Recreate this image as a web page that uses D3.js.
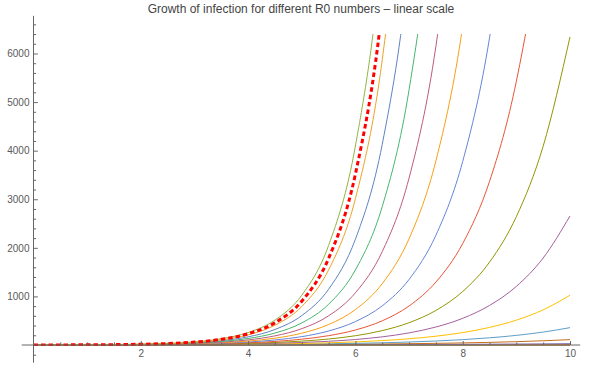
<!DOCTYPE html>
<html lang="en">
<head>
<meta charset="UTF-8">
<title>Growth of infection</title>
<style>
  body { margin: 0; background: #fff; }
  text { font-family: "Liberation Sans", Arial, sans-serif; }
</style>
</head>
<body>
<script src="https://d3js.org/d3.v7.min.js"></script>
<div id="chart"></div>
<script>

// sample positions (days / generations) shared by every curve
var xs = [0, 0.5, 1, 1.5, 2, 2.5, 3, 3.5, 4, 4.5, 5, 5.5, 6, 6.5, 7, 7.5, 8, 8.5, 9, 9.5, 10];

// infections, one array per R0
var r06 = [1, 0.77, 0.6, 0.46, 0.36, 0.28, 0.22, 0.17, 0.13, 0.1, 0.08, 0.06, 0.05, 0.04, 0.03, 0.02, 0.02, 0.01, 0.01, 0.01, 0.01];
var r08 = [1, 0.89, 0.8, 0.72, 0.64, 0.57, 0.51, 0.46, 0.41, 0.37, 0.33, 0.29, 0.26, 0.23, 0.21, 0.19, 0.17, 0.15, 0.13, 0.12, 0.11];
var r10 = [1, 1, 1, 1, 1, 1, 1, 1, 1, 1, 1, 1, 1, 1, 1, 1, 1, 1, 1, 1, 1];
var r12 = [1, 1.1, 1.2, 1.31, 1.44, 1.58, 1.73, 1.89, 2.07, 2.27, 2.49, 2.73, 2.99, 3.27, 3.58, 3.93, 4.3, 4.71, 5.16, 5.65, 6.19];
var r14 = [1, 1.18, 1.4, 1.66, 1.96, 2.32, 2.74, 3.25, 3.84, 4.55, 5.38, 6.36, 7.53, 8.91, 10.5, 12.5, 14.8, 17.5, 20.7, 24.4, 28.9];
var r16 = [1, 1.26, 1.6, 2.02, 2.56, 3.24, 4.1, 5.18, 6.55, 8.29, 10.5, 13.3, 16.8, 21.2, 26.8, 34, 43, 54.3, 68.7, 86.9, 110];
var r18 = [1, 1.34, 1.8, 2.41, 3.24, 4.35, 5.83, 7.82, 10.5, 14.1, 18.9, 25.3, 34, 45.6, 61.2, 82.1, 110, 148, 198, 266, 357];
var r20 = [1, 1.41, 2, 2.83, 4, 5.66, 8, 11.3, 16, 22.6, 32, 45.3, 64, 90.5, 128, 181, 256, 362, 512, 724, 1024];
var r22 = [1, 1.48, 2.2, 3.26, 4.84, 7.18, 10.6, 15.8, 23.4, 34.7, 51.5, 76.4, 113, 168, 249, 370, 549, 814, 1207, 1791, 2656];
var r24 = [1, 1.55, 2.4, 3.72, 5.76, 8.92, 13.8, 21.4, 33.2, 51.4, 79.6, 123, 191, 296, 459, 711, 1101, 1705, 2642, 4093, 6340];
var r26 = [1, 1.61, 2.6, 4.19, 6.76, 10.9, 17.6, 28.3, 45.7, 73.7, 119, 192, 309, 498, 803, 1295, 2088, 3367, 5430, 8755, 14117];
var r28 = [1, 1.67, 2.8, 4.69, 7.84, 13.1, 22, 36.7, 61.5, 103, 172, 288, 482, 806, 1349, 2258, 3778, 6322, 10579, 17701];
var r30 = [1, 1.73, 3, 5.2, 9, 15.6, 27, 46.8, 81, 140, 243, 421, 729, 1263, 2187, 3788, 6561, 11365, 19683];
var r32 = [1, 1.79, 3.2, 5.72, 10.2, 18.3, 32.8, 58.6, 105, 188, 336, 600, 1074, 1921, 3436, 6147, 10995, 19669];
var r34 = [1, 1.84, 3.4, 6.27, 11.6, 21.3, 39.3, 72.5, 134, 246, 454, 838, 1545, 2849, 5252, 9685, 17858];
var r36 = [1, 1.9, 3.6, 6.83, 13, 24.6, 46.7, 88.5, 168, 319, 605, 1147, 2177, 4130, 7836, 14869];
var r38 = [1, 1.95, 3.8, 7.41, 14.4, 28.1, 54.9, 107, 208, 406, 792, 1545, 3011, 5870, 11442, 22304];
var r40 = [1, 2, 4, 8, 16, 32, 64, 128, 256, 512, 1024, 2048, 4096, 8192, 16384];
// highlighted curve (red dashed)
var r39 = [1, 1.97, 3.9, 7.7, 15.2, 30, 59.3, 117, 231, 457, 902, 1782, 3519, 6949, 13723, 27100];

var curves = [r06, r08, r10, r12, r14, r16, r18, r20, r22, r24, r26, r28, r30, r32, r34, r36, r38, r40];
var colors = ["#5e81b5", "#e19c24", "#8fb032", "#eb6235", "#8778b3", "#c56e1a", "#5d9ec7", "#ffbf00",
              "#a5609d", "#929600", "#e95536", "#6685d9", "#f89f13", "#bc5b80", "#47b66d", "#5f83c1",
              "#eba229", "#93b440"];

var xMajor = [2, 4, 6, 8, 10];
var yMajor = [1000, 2000, 3000, 4000, 5000, 6000];

var width = 595, height = 373;

var svg = d3.select("#chart")
  .append("svg")
    .attr("width", width)
    .attr("height", height);

var x = d3.scaleLinear().domain([0, 10]).range([33.5, 570]);
var y = d3.scaleLinear().domain([0, 6000]).range([345, 53.5]);

// clip the curves at the plot range
svg.append("clipPath")
    .attr("id", "plotclip")
  .append("rect")
    .attr("x", x(0))
    .attr("y", y(6400))
    .attr("width", x(10) - x(0) + 2)
    .attr("height", y(0) - y(6400) + 1);

var line = d3.line()
  .x(function(d, i) { return x(xs[i]); })
  .y(function(d) { return y(d); })
  .curve(d3.curveMonotoneX);

var plot = svg.append("g").attr("clip-path", "url(#plotclip)");

plot.selectAll("path.curve")
  .data(curves)
  .enter()
  .append("path")
    .attr("class", "curve")
    .attr("d", line)
    .attr("fill", "none")
    .attr("stroke", function(d, i) { return colors[i]; })
    .attr("stroke-width", 1);

plot.append("path")
    .attr("d", line(r39))
    .attr("fill", "none")
    .attr("stroke", "#ff0000")
    .attr("stroke-width", 3)
    .attr("stroke-dasharray", "4.5,3");

// axes, Mathematica style: ticks point into the plot
var axisColor = "#666";

var xMinor = d3.range(0.5, 10.01, 0.5).filter(function(v) { return v % 2 !== 0; });
var yMinor = d3.range(-200, 6601, 200).filter(function(v) { return v % 1000 !== 0; });

svg.append("line")
    .attr("x1", x(-0.22)).attr("x2", x(10.19))
    .attr("y1", y(0)).attr("y2", y(0))
    .attr("stroke", axisColor);
svg.append("line")
    .attr("x1", x(0)).attr("x2", x(0))
    .attr("y1", y(-365)).attr("y2", y(6775))
    .attr("stroke", axisColor);

svg.append("g")
    .attr("transform", "translate(0," + y(0) + ")")
    .call(d3.axisBottom(x).tickValues(xMajor).tickSize(-4).tickPadding(5).tickFormat(d3.format("d")));
svg.append("g")
    .attr("transform", "translate(0," + y(0) + ")")
    .call(d3.axisBottom(x).tickValues(xMinor).tickSize(-2.6).tickFormat(""));

svg.append("g")
    .attr("transform", "translate(" + x(0) + ",0)")
    .call(d3.axisLeft(y).tickValues(yMajor).tickSize(-4.3).tickPadding(4).tickFormat(d3.format("d")));
svg.append("g")
    .attr("transform", "translate(" + x(0) + ",0)")
    .call(d3.axisLeft(y).tickValues(yMinor).tickSize(-2.6).tickFormat(""));

svg.selectAll(".domain").remove();
svg.selectAll(".tick line").attr("stroke", axisColor);
svg.selectAll(".tick text")
    .attr("fill", "#5a5a5a")
    .style("font-size", "10px")
    .style("font-family", "'Liberation Sans', Arial, sans-serif");

svg.append("text")
    .attr("x", 301)
    .attr("y", 13)
    .attr("text-anchor", "middle")
    .attr("fill", "#444")
    .style("font-size", "12px")
    .text("Growth of infection for different R0 numbers \u2013 linear scale");

</script>
</body>
</html>
